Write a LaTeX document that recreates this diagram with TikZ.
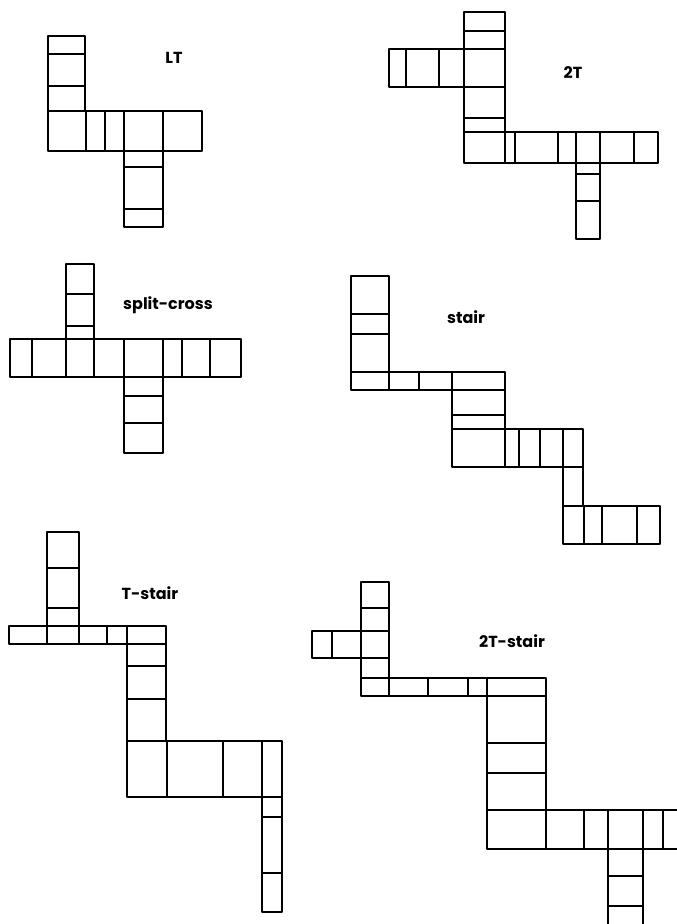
\documentclass[tikz,border=0pt]{standalone}
\usepackage{fontspec}
\newfontfamily\labelfont{Poppins}

\tikzset{
  cell/.style={draw=black,line width=1.8pt,line join=round},
  tag/.style={font=\labelfont\bfseries\fontsize{16}{16}\selectfont,inner sep=0pt}
}

\begin{document}
\begin{tikzpicture}[x=1pt,y=-1pt]
  \useasboundingbox (0,0) rectangle (677,924);
  \clip (0,0) rectangle (677,924);
  % LT
  \draw[cell] (48,36) rectangle (85,54) (48,54) rectangle (85,86) (48,86) rectangle (85,111);
  \draw[cell] (48,111) rectangle (86,151) (86,111) rectangle (105,151) (105,111) rectangle (124,151) (124,111) rectangle (163,151) (163,111) rectangle (202,151);
  \draw[cell] (124,151) rectangle (163,167) (124,167) rectangle (163,209) (124,209) rectangle (163,227);
  \node[tag] (lt) at (174,58) {LT};
  % 2T
  \draw[cell] (464,12) rectangle (505,31) (464,31) rectangle (505,49) (464,49) rectangle (505,87) (464,87) rectangle (505,118) (464,118) rectangle (505,132);
  \draw[cell] (389,49) rectangle (406,87) (406,49) rectangle (439,87) (439,49) rectangle (464,87);
  \draw[cell] (464,132) rectangle (505,163) (505,132) rectangle (515,163) (515,132) rectangle (558,163) (558,132) rectangle (576,163) (576,132) rectangle (600,163) (600,132) rectangle (634,163) (634,132) rectangle (658,163);
  \draw[cell] (576,163) rectangle (600,174) (576,174) rectangle (600,201) (576,201) rectangle (600,239);
  \node[tag] (twot) at (573,73) {2T};
  % split-cross
  \draw[cell] (66,264) rectangle (94,294) (66,294) rectangle (94,326) (66,326) rectangle (94,339);
  \draw[cell] (10,339) rectangle (32,377) (32,339) rectangle (66,377) (66,339) rectangle (94,377) (94,339) rectangle (124,377) (124,339) rectangle (163,377) (163,339) rectangle (182,377) (182,339) rectangle (210,377) (210,339) rectangle (241,377);
  \draw[cell] (124,377) rectangle (163,396) (124,396) rectangle (163,423) (124,423) rectangle (163,453);
  \node[tag] (split) at (168,305) {split-cross};
  % stair
  \draw[cell] (351,276) rectangle (389,314) (351,314) rectangle (389,334) (351,334) rectangle (389,372);
  \draw[cell] (351,372) rectangle (389,390) (389,372) rectangle (419,390) (419,372) rectangle (452,390) (452,372) rectangle (505,390);
  \draw[cell] (452,390) rectangle (505,415) (452,415) rectangle (505,429);
  \draw[cell] (452,429) rectangle (505,467) (505,429) rectangle (519,467) (519,429) rectangle (540,467) (540,429) rectangle (563,467) (563,429) rectangle (583,467);
  \draw[cell] (563,467) rectangle (583,506);
  \draw[cell] (563,506) rectangle (584,544) (584,506) rectangle (602,544) (602,506) rectangle (637,544) (637,506) rectangle (660,544);
  \node[tag] (stair) at (466,317) {stair};
  % T-stair
  \draw[cell] (47,532) rectangle (79,568) (47,568) rectangle (79,608) (47,608) rectangle (79,626);
  \draw[cell] (9,626) rectangle (47,644) (47,626) rectangle (79,644) (79,626) rectangle (107,644) (107,626) rectangle (127,644) (127,626) rectangle (166,644);
  \draw[cell] (127,644) rectangle (166,666) (127,666) rectangle (166,699) (127,699) rectangle (166,741);
  \draw[cell] (127,741) rectangle (167,797) (167,741) rectangle (223,797) (223,741) rectangle (262,797) (262,741) rectangle (282,797);
  \draw[cell] (262,797) rectangle (282,817) (262,817) rectangle (282,873) (262,873) rectangle (282,912);
  \node[tag] (tstair) at (150,593) {T-stair};
  % 2T-stair
  \draw[cell] (361,582) rectangle (389,608) (361,608) rectangle (389,631) (361,631) rectangle (389,658) (361,658) rectangle (389,678);
  \draw[cell] (312,631) rectangle (332,658) (332,631) rectangle (361,658);
  \draw[cell] (361,678) rectangle (389,696) (389,678) rectangle (428,696) (428,678) rectangle (468,696) (468,678) rectangle (487,696) (487,678) rectangle (546,696);
  \draw[cell] (487,696) rectangle (546,743) (487,743) rectangle (546,773) (487,773) rectangle (546,810);
  \draw[cell] (487,810) rectangle (546,849) (546,810) rectangle (584,849) (584,810) rectangle (608,849) (608,810) rectangle (643,849) (643,810) rectangle (663,849) (663,810) rectangle (690,849);
  \draw[cell] (608,849) rectangle (643,876) (608,876) rectangle (643,906) (608,906) rectangle (643,940);
  \node[tag] (twotstair) at (512,641) {2T-stair};
\end{tikzpicture}
\end{document}
